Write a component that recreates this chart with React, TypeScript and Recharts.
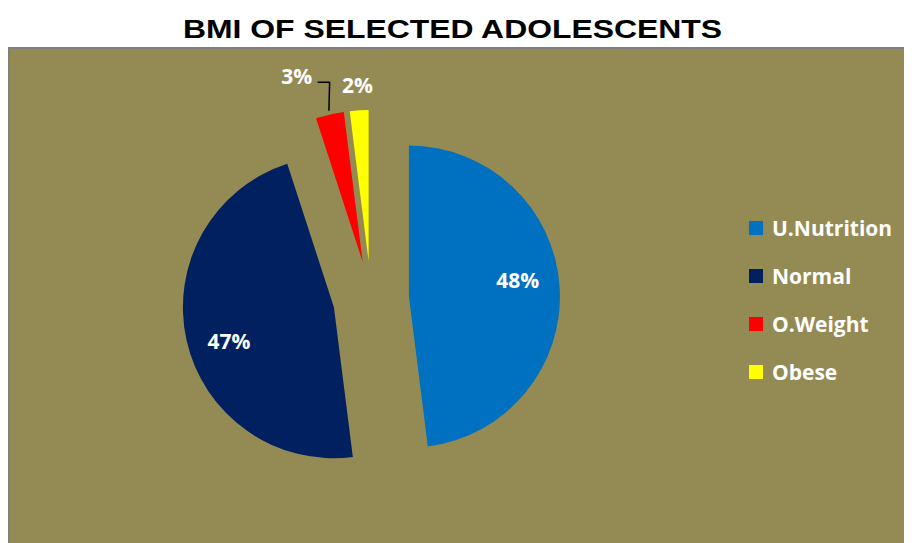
import { PieChart, Pie, Cell, Sector, Legend } from "recharts";

const categories = ["U.Nutrition", "Normal", "O.Weight", "Obese"];
const shares = [48, 47, 3, 2];
const colors = ["#0070C0", "#002060", "#FF0000", "#FFFF00"];

const data = categories.map((name, i) => ({ name, value: shares[i] }));

const RAD = Math.PI / 180;
const EXPLODE = 38;
// label placement per slice, measured from the exploded vertex
const labelRadius = [110, 110, 197, 176];
const labelTurn = [5, 5, 7, 0];

const dir = (angle: number) => ({ x: Math.cos(-angle * RAD), y: Math.sin(-angle * RAD) });

function ExplodedSector(props: any) {
  const d = dir(props.midAngle);
  return <Sector {...props} cx={props.cx + EXPLODE * d.x} cy={props.cy + EXPLODE * d.y} />;
}

function renderLabel(props: any) {
  const { cx, cy, midAngle, outerRadius, index } = props;
  const m = dir(midAngle);
  const vx = cx + EXPLODE * m.x;
  const vy = cy + EXPLODE * m.y;
  const l = dir(midAngle + labelTurn[index]);
  const x = vx + labelRadius[index] * l.x;
  const y = vy + labelRadius[index] * l.y;
  const edge = { x: vx + (outerRadius + 4) * m.x, y: vy + (outerRadius + 4) * m.y };
  return (
    <g key={`lbl-${index}`}>
      {index === 2 && (
        <polyline
          points={`${x + 21},${y + 6} ${x + 33},${y + 6} ${edge.x},${edge.y}`}
          fill="none"
          stroke="#000"
          strokeWidth={1.5}
        />
      )}
      <text
        x={x}
        y={y}
        fill="#fff"
        textAnchor="middle"
        dominantBaseline="central"
        fontFamily="'Open Sans', sans-serif"
        fontWeight="bold"
        fontSize={21}
      >
        {shares[index]}%
      </text>
    </g>
  );
}

function renderLegend() {
  return (
    <div style={{ fontFamily: "'Open Sans', sans-serif", fontWeight: "bold", fontSize: 21, color: "#fff" }}>
      {categories.map((c, i) => (
        <div key={c} style={{ height: 48, display: "flex", alignItems: "center" }}>
          <span style={{ width: 14, height: 14, background: colors[i], marginRight: 9, display: "inline-block" }} />
          <span>{c}</span>
        </div>
      ))}
    </div>
  );
}

export default function App() {
  return (
    <div style={{ position: "relative", width: 904, height: 535 }}>
      <div
        style={{
          position: "absolute",
          left: 0,
          top: 39,
          right: 0,
          bottom: 0,
          background: "#948A54",
          borderTop: "2px solid #808080",
          borderLeft: "2px solid #808080",
        }}
      />
      <div style={{ position: "absolute", left: 0, top: 0 }}>
        <PieChart width={904} height={535} margin={{ top: 0, right: 0, bottom: 0, left: 0 }}>
          <text
            x={444.5}
            y={30}
            textAnchor="middle"
            fontFamily="'Liberation Sans', Arial, sans-serif"
            fontWeight="bold"
            fontSize={25}
            textLength={539}
            lengthAdjust="spacingAndGlyphs"
            fill="#000"
          >
            BMI OF SELECTED ADOLESCENTS
          </text>
          <Pie
            data={data}
            dataKey="value"
            nameKey="name"
            cx={363}
            cy={291}
            outerRadius={151}
            startAngle={90}
            endAngle={-270}
            stroke="none"
            shape={ExplodedSector}
            label={renderLabel}
            labelLine={false}
            isAnimationActive={false}
          >
            {data.map((d, i) => (
              <Cell key={d.name} fill={colors[i]} />
            ))}
          </Pie>
          <Legend
            layout="vertical"
            align="right"
            verticalAlign="top"
            wrapperStyle={{ left: 741, top: 196, width: 160 }}
            content={renderLegend}
          />
        </PieChart>
      </div>
    </div>
  );
}
